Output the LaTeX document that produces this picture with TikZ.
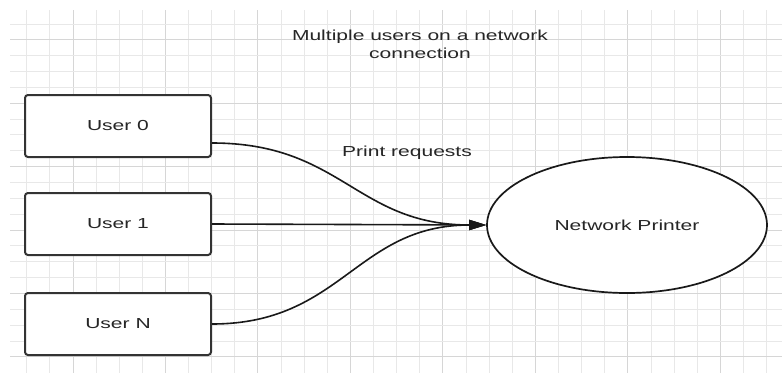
\documentclass[tikz,border=0pt]{standalone}
\usepackage{fontspec}
\setmainfont{Liberation Sans}[FakeStretch=1.45]
\usetikzlibrary{shapes.geometric,arrows.meta}
\begin{document}
\begin{tikzpicture}[x=1pt,y=-1pt,
  minorgrid/.style={draw=black!9,line width=1pt},
  majorgrid/.style={draw=black!16,line width=1pt},
  txt/.style={font=\fontsize{14.5}{18}\selectfont,text=black!85,align=center,inner sep=0pt},
  userbox/.style={txt,draw=black!80,line width=2pt,rounded corners=3pt,fill=white,
    minimum width=186pt,minimum height=62pt},
  printerbox/.style={txt,ellipse,draw=black!90,line width=1.7pt,fill=white,
    minimum width=280pt,minimum height=136pt},
  conn/.style={draw=black!90,line width=1.6pt,-{Triangle[length=17pt,width=10pt]}}]
\useasboundingbox[fill=white] (0,0) rectangle (782,378);
% grid
\foreach \k in {1,...,33} \draw[minorgrid] ({73+23.12*(\k-3)},10) -- ({73+23.12*(\k-3)},373);
\foreach \k in {0,4,...,28} \draw[majorgrid] ({73+23.12*\k},10) -- ({73+23.12*\k},373);
\foreach \k in {0,...,21} \draw[minorgrid] (10,{24+15.85*\k}) -- (782,{24+15.85*\k});
\foreach \k in {1,5,...,21} \draw[majorgrid] (10,{24+15.85*\k}) -- (782,{24+15.85*\k});
% texts
\node[txt] (title) at (420,44) {Multiple users on a network\\connection};
\node[txt] (label) at (407,153) {Print requests};
% nodes
\node[userbox] (u0) at (118,126) {User 0};
\node[userbox] (u1) at (118,224) {User 1};
\node[userbox] (uN) at (118,324) {User N};
\node[printerbox] (printer) at (627,225) {Network Printer};
% connectors
\draw[conn] ([yshift=-17pt]u0.east) .. controls +(130,0) and +(-130,0) .. (printer.west);
\draw[conn] (u1.east) -- (printer.west);
\draw[conn] (uN.east) .. controls +(130,0) and +(-130,0) .. (printer.west);
\end{tikzpicture}
\end{document}
